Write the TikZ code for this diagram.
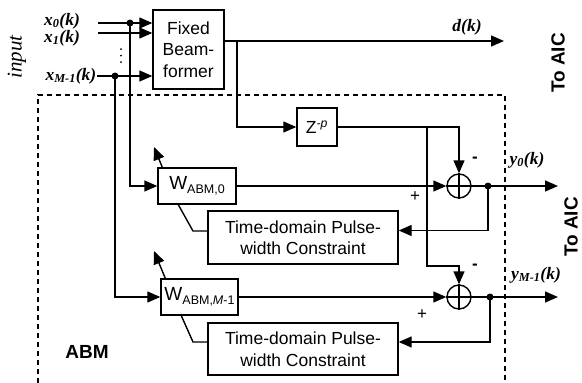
\documentclass[tikz,border=0pt]{standalone}
\usepackage{fontspec}
\setmainfont{Liberation Serif}
\setsansfont{Liberation Sans}
\usetikzlibrary{arrows.meta,calc}
\begin{document}
\begin{tikzpicture}[x=1pt,y=-1pt,line width=1.4pt,
  blk/.style={draw,rectangle,inner sep=0pt,font=\sffamily\fontsize{17.5}{21.5}\selectfont,align=center},
  arr/.style={-{Triangle[length=13pt,width=11pt]}},
  dotn/.style={circle,fill,inner sep=0pt,minimum size=7pt},
  vdot/.style={circle,fill,inner sep=0pt,minimum size=2pt},
  sumn/.style={circle,draw,minimum size=24pt,inner sep=0pt},
  sig/.style={font=\bfseries\itshape\fontsize{17.5}{20}\selectfont,inner sep=0pt},
  sign/.style={font=\sffamily\fontsize{17}{20}\selectfont,inner sep=0pt},
  aic/.style={font=\sffamily\bfseries\fontsize{19}{20}\selectfont,inner sep=0pt,rotate=90},
  dash box/.style={dash pattern=on 5pt off 4pt,line width=1.4pt}]
\useasboundingbox (0,0) rectangle (582,383);

% dashed ABM region
\draw[dash box] (38,383) -- (38,95) -- (505,95) -- (505,383);
\node[font=\sffamily\bfseries\fontsize{19}{20}\selectfont,inner sep=0pt] (abm) at (87,352) {ABM};

% blocks
\node[blk,minimum width=71pt,minimum height=79pt] (fb) at (188.5,49.5) {Fixed\\Beam-\\former};
\node[blk,minimum width=40pt,minimum height=38pt] (z) at (317,127) {Z\textsuperscript{\textit{-p}}};
\node[blk,minimum width=78pt,minimum height=36pt] (w0) at (197,186) {{\fontsize{19}{20}\selectfont W}{\fontsize{12.5}{12}\selectfont\raisebox{-4pt}{ABM,0}}};
\node[blk,minimum width=77pt,minimum height=36pt] (wM) at (199.5,297) {{\fontsize{19}{20}\selectfont W}{\fontsize{12.5}{12}\selectfont\raisebox{-4pt}{ABM,\textit{M}-1}}};
\node[blk,minimum width=190pt,minimum height=53pt] (tc0) at (303,237.5) {Time-domain Pulse-\\width Constraint};
\node[blk,minimum width=190pt,minimum height=52pt] (tcM) at (303,349) {Time-domain Pulse-\\width Constraint};

% summing junctions
\node[sumn] (s0) at (459,186) {};
\draw (s0.north) -- (s0.south) (s0.west) -- (s0.east);
\node[sumn] (sM) at (459,297) {};
\draw (sM.north) -- (sM.south) (sM.west) -- (sM.east);

% input labels
\node[font=\itshape\fontsize{21}{21}\selectfont,inner sep=0pt,rotate=90] (inp) at (17,57) {input};
\node[sig] (lx0) at (62,21) {x\textsubscript{0}(k)};
\node[sig] (lx1) at (62,38) {x\textsubscript{1}(k)};
\node[sig,anchor=east] (lxM) at (97,76) {x\textsubscript{M-1}(k)};
\node[vdot] (v1) at (121,49) {};
\node[vdot] (v2) at (121,55.5) {};
\node[vdot] (v3) at (121,62) {};

% inputs to fixed beamformer
\coordinate (in0) at (98,23);
\coordinate (in1) at (98,33);
\draw[arr] (in0) -- (in0 -| fb.west);
\draw[arr] (in1) -- (in1 -| fb.west);
\draw[arr] (lxM.east) -- (lxM.east -| fb.west);
\node[dotn] (d0) at (130,23) {};
\node[dotn] (dM) at (115,76) {};
\draw[arr] (d0.center) |- (w0.west);
\draw[arr] (dM.center) |- (wM.west);

% fixed beamformer output
\coordinate (dk) at (504,41);
\coordinate (br) at (237,41);
\draw[arr] (fb.east |- dk) -- (dk);
\node[sig] (ldk) at (467,27) {d(k)};
\draw[arr] (br) |- (z.west);
\node[aic] (aic1) at (558,63) {To AIC};

% delay output to summers
\draw[arr] (z.east) -| (s0.north);
\coordinate (br2) at (427,127);
\coordinate (bk) at (427,266);
\draw[arr] (br2) -- (bk) -| (sM.north);

% branch 0
\draw[arr] (w0.east) -- (s0.west);
\node[dotn] (o0) at (488,186) {};
\coordinate (y0e) at (558,186);
\draw (s0.east) -- (o0.center);
\draw[arr] (o0.center) -- (y0e);
\draw[arr] (o0.center) |- ([yshift=7pt]tc0.east);
\coordinate (k0) at (193,231);
\draw ([xshift=21pt]w0.south west) -- (k0) -- (k0 -| tc0.west);
\coordinate (a0) at (154,147);
\draw[arr] ([xshift=5pt]w0.north west) -- (a0);
\node[sign] (m0) at (475,160) {\textbf{-}};
\node[sign] (p0) at (415,197) {+};
\node[sig] (ly0) at (527,160) {y\textsubscript{0}(k)};

% branch M-1
\draw[arr] (wM.east) -- (sM.west);
\node[dotn] (oM) at (490,297) {};
\coordinate (yMe) at (558,297);
\draw (sM.east) -- (oM.center);
\draw[arr] (oM.center) -- (yMe);
\draw[arr] (oM.center) |- ([yshift=7pt]tcM.east);
\coordinate (kM) at (193,342);
\draw ([xshift=21pt]wM.south west) -- (kM) -- (kM -| tcM.west);
\coordinate (aM) at (154,251);
\draw[arr] ([xshift=5pt]wM.north west) -- (aM);
\node[sign] (mM) at (475,267) {\textbf{-}};
\node[sign] (pM) at (422,315) {+};
\node[sig] (lyM) at (536,275) {y\textsubscript{M-1}(k)};
\node[aic] (aic2) at (571,227) {To AIC};
\end{tikzpicture}
\end{document}
